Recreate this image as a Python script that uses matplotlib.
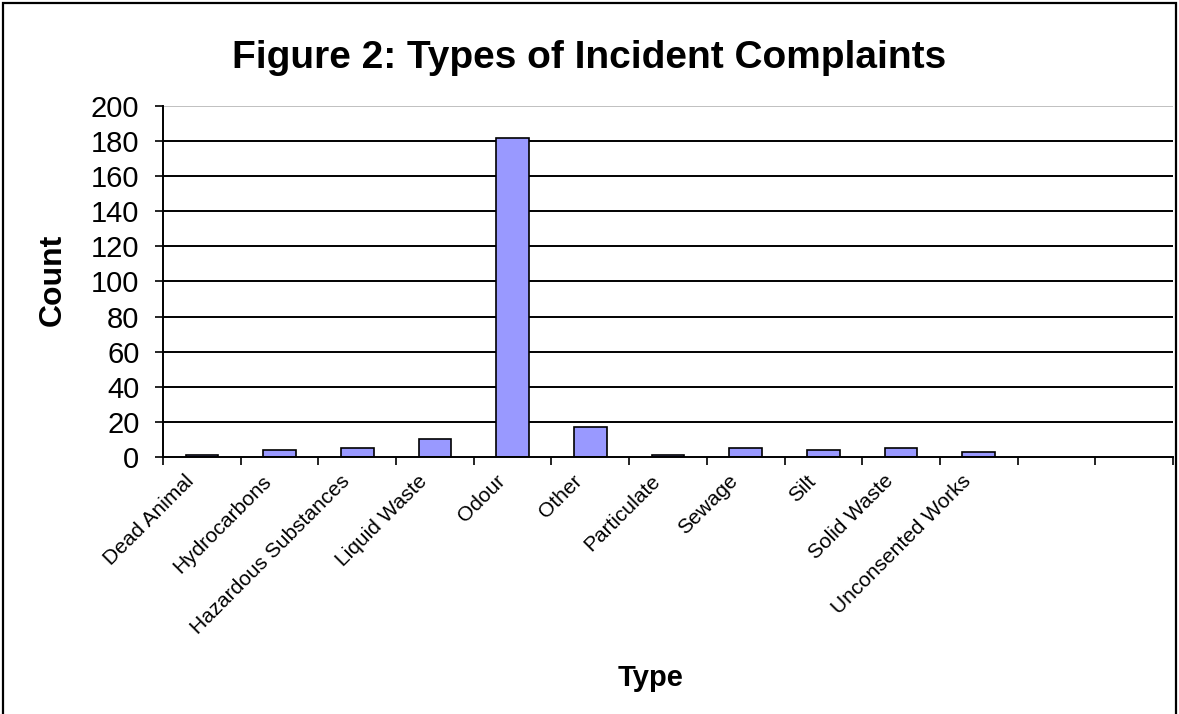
import matplotlib.pyplot as plt
import numpy as np
from matplotlib.patches import Rectangle

plt.rcParams['font.family'] = ['Liberation Sans', 'DejaVu Sans']

# data
types = ['Dead Animal', 'Hydrocarbons', 'Hazardous Substances', 'Liquid Waste',
         'Odour', 'Other', 'Particulate', 'Sewage', 'Silt', 'Solid Waste',
         'Unconsented Works']
counts = [1, 4, 5, 10, 182, 17, 1, 5, 4, 5, 3]
n_slots = 13  # two empty categories at the end
y_ticks = list(range(0, 201, 20))

W, H = 1179, 714
fig = plt.figure(figsize=(W / 100, H / 100), dpi=100)

# outer chart border
fig.patches.append(Rectangle((3 / W, -0.05), (1176 - 3) / W, 1.05 - 3 / H,
                             transform=fig.transFigure, fill=False,
                             edgecolor='black', linewidth=1.6))

ax = fig.add_axes([163 / W, 1 - 457 / H, (1173 - 163) / W, (457 - 106) / H])
x = np.arange(len(types))
ax.bar(x, counts, width=0.42, color='#9999FF', edgecolor='black',
       linewidth=1.2, zorder=3)

ax.set_xlim(-0.5, n_slots - 0.5)
ax.set_ylim(0, 200)
ax.set_yticks(y_ticks)
ax.set_yticklabels([str(v) for v in y_ticks], fontsize=21)
for v in y_ticks[1:]:
    ax.axhline(v, color='#c0c0c0' if v == 200 else 'black', linewidth=1.4, zorder=1)

ax.set_xticks(np.arange(-0.5, n_slots, 1.0))
ax.set_xticklabels([])
ax.tick_params(axis='x', direction='out', length=6, width=1.2)
ax.tick_params(axis='y', direction='out', length=6, width=1.2, pad=11)

for s in ['top', 'right']:
    ax.spines[s].set_visible(False)
for s in ['left', 'bottom']:
    ax.spines[s].set_linewidth(1.4)
    ax.spines[s].set_zorder(4)

for i, lab in enumerate(types):
    ax.annotate(lab, xy=(i, 0), xycoords=('data', 'axes fraction'),
                xytext=(-5, -18), textcoords='offset points',
                rotation=45, ha='right', va='baseline',
                rotation_mode='anchor', fontsize=15)

fig.text(589 / W, 1 - 58 / H, 'Figure 2: Types of Incident Complaints',
         fontsize=28, fontweight='bold', ha='center', va='center')
fig.text(53 / W, 1 - 280 / H, 'Count', fontsize=23, fontweight='bold',
         rotation=90, ha='center', va='center')
fig.text(651 / W, 1 - 678 / H, 'Type', fontsize=21, fontweight='bold',
         ha='center', va='center')

fig.savefig('out.png', dpi=100)
